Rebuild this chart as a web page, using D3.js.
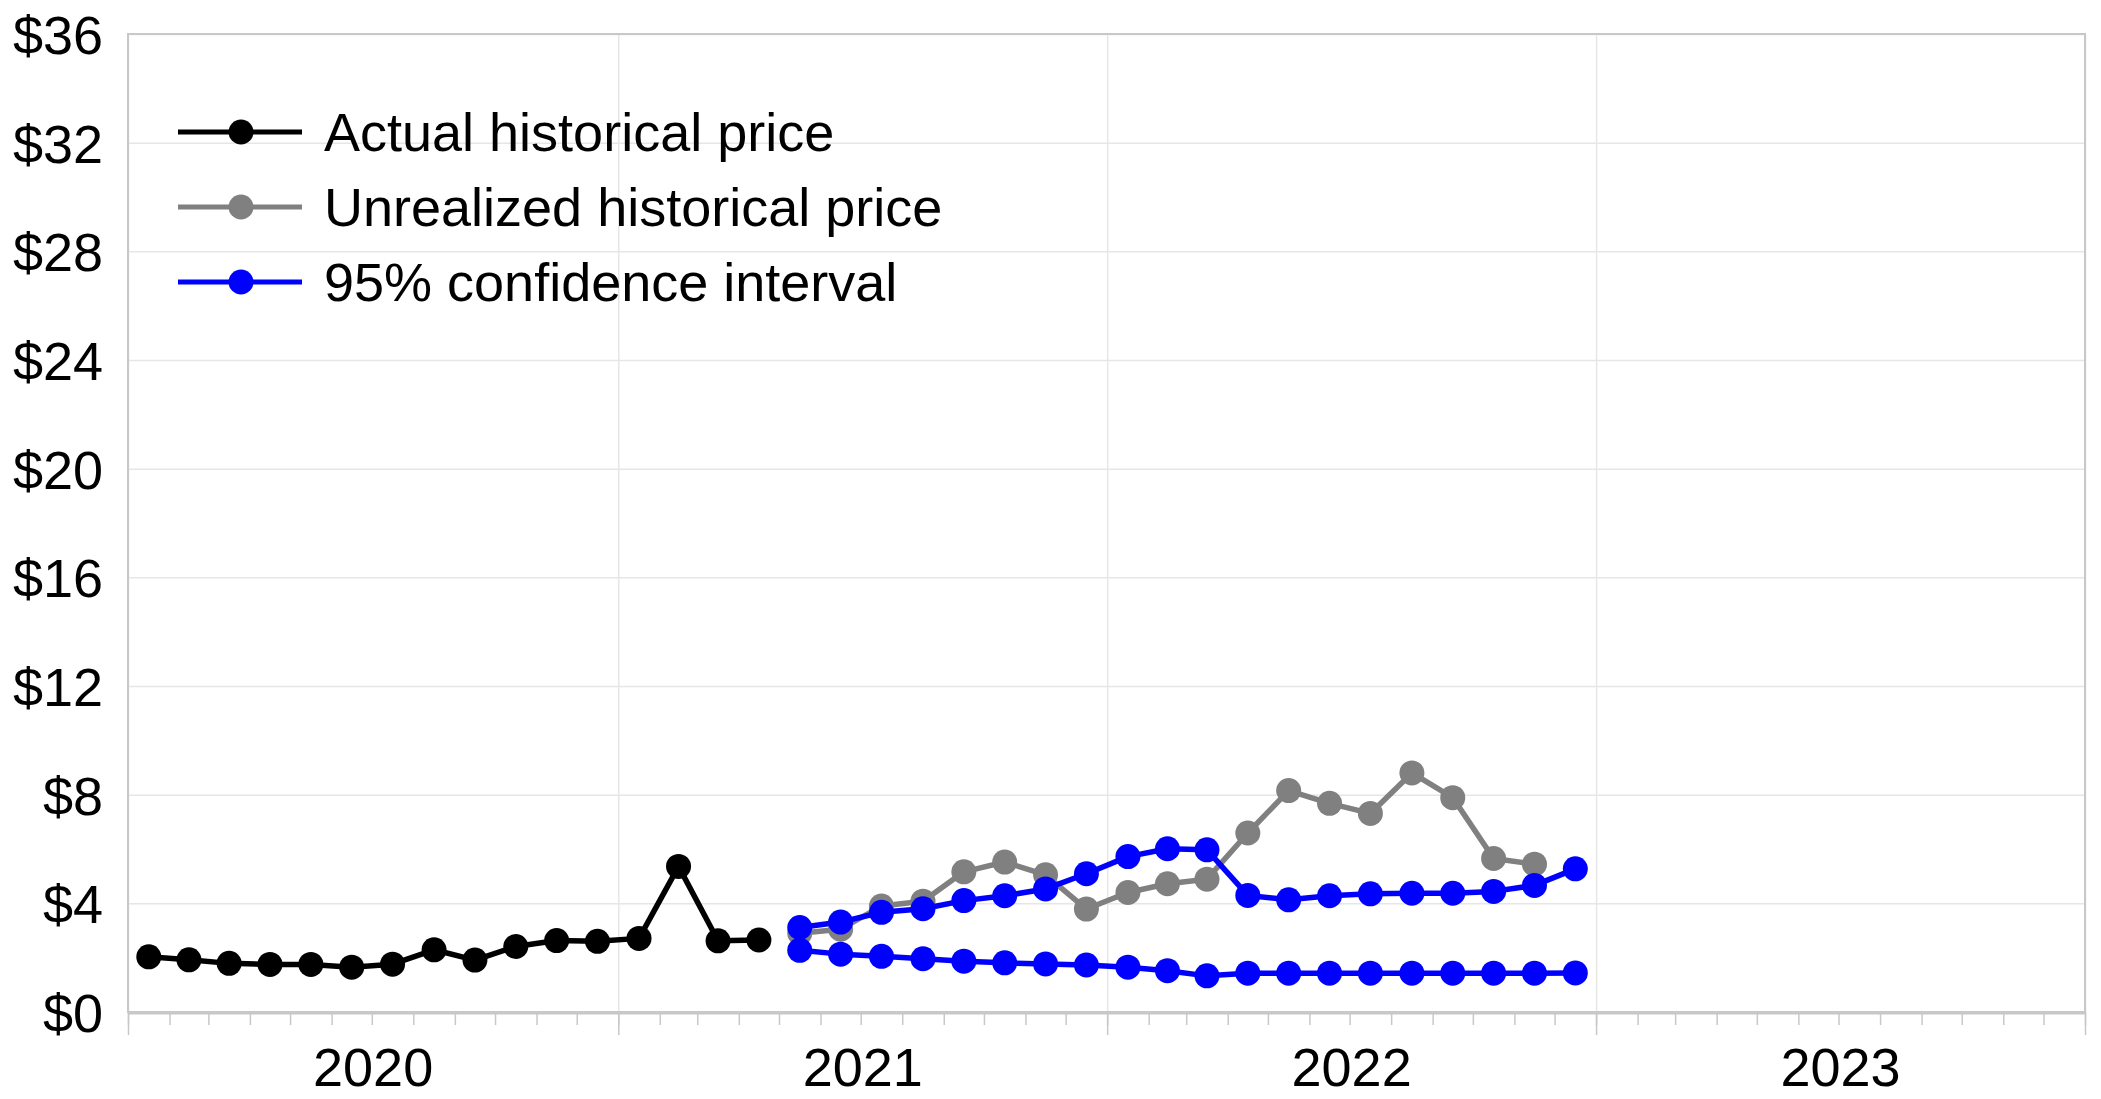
<!DOCTYPE html>
<html>
<head>
<meta charset="utf-8">
<script src="https://cdn.jsdelivr.net/npm/d3@7"></script>
<style>
  body { margin: 0; background: #fff; }
  svg { display: block; font-family: "Liberation Sans", Arial, sans-serif; }
  .tick text { fill: #000; }
</style>
</head>
<body>
<svg id="chart" width="2101" height="1099"></svg>
<script>
// podatki
const actualMonths = ["2020-01","2020-02","2020-03","2020-04","2020-05","2020-06","2020-07","2020-08",
  "2020-09","2020-10","2020-11","2020-12","2021-01","2021-02","2021-03","2021-04"];
const actualPrice = [2.03, 1.92, 1.79, 1.75, 1.75, 1.65, 1.76, 2.29, 1.91, 2.41, 2.63, 2.60, 2.71, 5.36, 2.62, 2.65];

const forecastMonths = ["2021-05","2021-06","2021-07","2021-08","2021-09","2021-10","2021-11","2021-12",
  "2022-01","2022-02","2022-03","2022-04","2022-05","2022-06","2022-07","2022-08","2022-09","2022-10","2022-11","2022-12"];
const unrealizedPrice = [2.9, 3.05, 3.9, 4.08, 5.16, 5.52, 5.05, 3.79, 4.40, 4.72, 4.89, 6.59, 8.15, 7.68, 7.31, 8.80, 7.89, 5.65, 5.44, null];
const upperCI = [3.11, 3.31, 3.67, 3.80, 4.10, 4.28, 4.53, 5.09, 5.72, 6.01, 5.97, 4.29, 4.13, 4.28, 4.35, 4.37, 4.37, 4.44, 4.66, 5.27];
const lowerCI = [2.27, 2.13, 2.05, 1.96, 1.87, 1.81, 1.77, 1.73, 1.65, 1.52, 1.33, 1.43, 1.43, 1.43, 1.43, 1.43, 1.43, 1.43, 1.43, 1.44];

const yearLabels = ["2020", "2021", "2022", "2023"];
const yTicks = [0, 4, 8, 12, 16, 20, 24, 28, 32, 36];
const legendItems = [
  { name: "Actual historical price", color: "#000000" },
  { name: "Unrealized historical price", color: "#808080" },
  { name: "95% confidence interval", color: "#0000ff" }
];

const W = 2101, H = 1099;
const m = { left: 128, right: 16, top: 34, bottom: 87 };
const fontSize = 54;

const svg = d3.select("#chart");
svg.append("rect").attr("width", W).attr("height", H).attr("fill", "#fff");

const parseMonth = d3.timeParse("%Y-%m");
// sredina meseca
const mid = s => {
  const a = parseMonth(s), b = d3.timeMonth.offset(a, 1);
  return new Date((a.getTime() + b.getTime()) / 2);
};

const x = d3.scaleTime()
  .domain([parseMonth("2020-01"), parseMonth("2024-01")])
  .range([m.left, W - m.right]);
const y = d3.scaleLinear().domain([0, 36]).range([H - m.bottom, m.top]);

const years = yearLabels.map(s => d3.timeParse("%Y")(s)).concat([parseMonth("2024-01")]);

// mreža
svg.append("g")
  .attr("transform", `translate(0,${H - m.bottom})`)
  .call(d3.axisBottom(x).tickValues(years).tickSize(-(H - m.bottom - m.top)).tickFormat(""))
  .call(g => g.select(".domain").remove())
  .call(g => g.selectAll("line").attr("stroke", "#e6e6e6").attr("stroke-width", 1.5));

svg.append("g")
  .attr("transform", `translate(${m.left},0)`)
  .call(d3.axisLeft(y).tickValues(yTicks).tickSize(-(W - m.left - m.right)).tickFormat(""))
  .call(g => g.select(".domain").remove())
  .call(g => g.selectAll("line").attr("stroke", "#e6e6e6").attr("stroke-width", 1.5));

// okvir
svg.append("rect")
  .attr("x", m.left).attr("y", m.top)
  .attr("width", W - m.left - m.right).attr("height", H - m.bottom - m.top)
  .attr("fill", "none").attr("stroke", "#c8c8c8").attr("stroke-width", 2);
svg.append("line")
  .attr("x1", m.left).attr("x2", W - m.right)
  .attr("y1", H - m.bottom + 1).attr("y2", H - m.bottom + 1)
  .attr("stroke", "#c8c8c8").attr("stroke-width", 3);

// mesečne oznake
svg.append("g")
  .attr("transform", `translate(0,${H - m.bottom})`)
  .call(d3.axisBottom(x).ticks(d3.timeMonth.every(1)).tickSize(13).tickFormat(""))
  .call(g => g.select(".domain").remove())
  .call(g => g.selectAll("line").attr("stroke", "#c8c8c8").attr("stroke-width", 1.5));
svg.append("g")
  .attr("transform", `translate(0,${H - m.bottom})`)
  .call(d3.axisBottom(x).tickValues(years).tickSize(23).tickFormat(""))
  .call(g => g.select(".domain").remove())
  .call(g => g.selectAll("line").attr("stroke", "#c8c8c8").attr("stroke-width", 1.5));

// y os
svg.append("g")
  .attr("transform", `translate(${m.left - 25},0)`)
  .call(d3.axisLeft(y).tickValues(yTicks).tickSize(0).tickPadding(0).tickFormat(d => "$" + d))
  .call(g => g.select(".domain").remove())
  .call(g => g.selectAll("text").attr("font-size", fontSize).attr("dy", "0.36em")
    .attr("font-family", "Liberation Sans, Arial, sans-serif"));

// letnice
svg.append("g").selectAll("text")
  .data(yearLabels)
  .join("text")
  .attr("x", (d, i) => (x(years[i]) + x(years[i + 1])) / 2)
  .attr("y", 1086)
  .attr("text-anchor", "middle")
  .attr("font-size", fontSize)
  .text(d => d);

// serije
function series(months, vals, color) {
  const pts = months.map((mo, i) => ({ date: mid(mo), v: vals[i] })).filter(d => d.v != null);
  const line = d3.line().x(d => x(d.date)).y(d => y(d.v));
  const g = svg.append("g");
  g.append("path").datum(pts)
    .attr("d", line).attr("fill", "none")
    .attr("stroke", color).attr("stroke-width", 5.5).attr("stroke-linejoin", "round");
  g.selectAll("circle").data(pts).join("circle")
    .attr("cx", d => x(d.date)).attr("cy", d => y(d.v)).attr("r", 12.5)
    .attr("fill", color);
}

series(forecastMonths, unrealizedPrice, "#808080");
series(forecastMonths, upperCI, "#0000ff");
series(forecastMonths, lowerCI, "#0000ff");
series(actualMonths, actualPrice, "#000000");

// legenda
const leg = svg.append("g").selectAll("g")
  .data(legendItems)
  .join("g")
  .attr("transform", (d, i) => `translate(178,${132 + i * 75})`);
leg.append("line").attr("x1", 0).attr("x2", 124)
  .attr("stroke", d => d.color).attr("stroke-width", 5);
leg.append("circle").attr("cx", 63).attr("r", 12.5).attr("fill", d => d.color);
leg.append("text").attr("x", 146).attr("dy", "0.36em")
  .attr("font-size", fontSize).text(d => d.name);
</script>
</body>
</html>
